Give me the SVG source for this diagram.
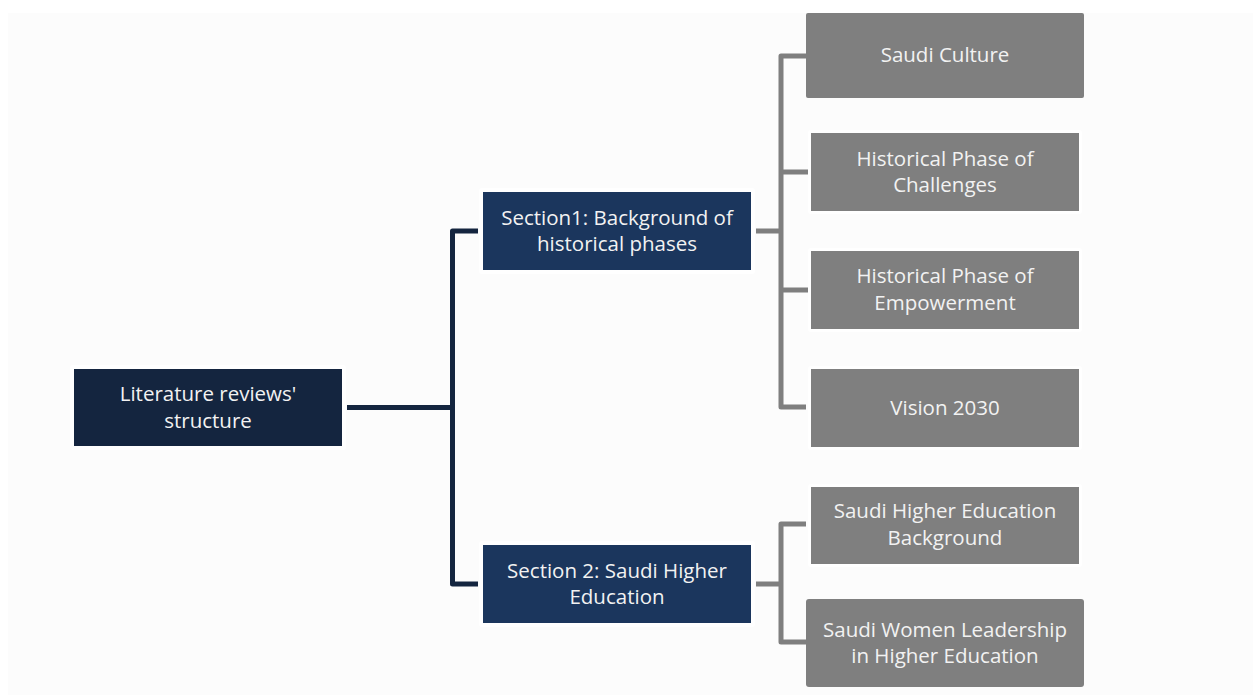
<svg xmlns="http://www.w3.org/2000/svg" width="1253" height="697" viewBox="0 0 1253 697">
<style>
.bg{fill:#fcfcfc}
.root{fill:#14253f}
.sec{fill:#1b365d}
.leaf{fill:#7f7f7f}
.halo{fill:#ffffff}
.t{font-family:"Open Sans","Liberation Sans",sans-serif;font-size:20.5px;fill:#f2f2f2;text-anchor:middle}
.cd{fill:none;stroke:#14253f;stroke-width:5;stroke-linejoin:round}
.cg{fill:none;stroke:#7f7f7f;stroke-width:5;stroke-linejoin:round}
</style>
<rect width="1253" height="697" fill="#ffffff"/>
<rect class="bg" x="8" y="13" width="1245" height="682"/>
<g id="connectors">
<path class="cd" d="M347 407.5H452.5M478 231H452.5V584H478"/>
<path class="cg" d="M756 231H781M806 56H781V407H806M781 172H811M781 290H811"/>
<path class="cg" d="M756 584H781M806 524H781V642H806"/>
</g>
<g id="root">
<rect class="halo" x="70" y="365" width="276" height="85" rx="3"/>
<rect class="root" x="74" y="369" width="268" height="77"/>
<text class="t" x="208" y="401">Literature reviews'</text>
<text class="t" x="208" y="428">structure</text>
</g>
<g id="section1">
<rect class="halo" x="479" y="188" width="276" height="86" rx="3"/>
<rect class="sec" x="483" y="192" width="268" height="78"/>
<text class="t" x="617" y="225">Section1: Background of</text>
<text class="t" x="617" y="251">historical phases</text>
</g>
<g id="section2">
<rect class="halo" x="479" y="541" width="276" height="86" rx="3"/>
<rect class="sec" x="483" y="545" width="268" height="78"/>
<text class="t" x="617" y="578">Section 2: Saudi Higher</text>
<text class="t" x="617" y="604">Education</text>
</g>
<g id="saudi-culture">
<rect class="leaf" x="806" y="13" width="278" height="85" rx="2"/>
<text class="t" x="945" y="62">Saudi Culture</text>
</g>
<g id="challenges">
<rect class="halo" x="808" y="130" width="274" height="84" rx="3"/>
<rect class="leaf" x="811" y="133" width="268" height="78"/>
<text class="t" x="945" y="166">Historical Phase of</text>
<text class="t" x="945" y="192">Challenges</text>
</g>
<g id="empowerment">
<rect class="halo" x="808" y="248" width="274" height="84" rx="3"/>
<rect class="leaf" x="811" y="251" width="268" height="78"/>
<text class="t" x="945" y="283">Historical Phase of</text>
<text class="t" x="945" y="310">Empowerment</text>
</g>
<g id="vision2030">
<rect class="halo" x="808" y="366" width="274" height="84" rx="3"/>
<rect class="leaf" x="811" y="369" width="268" height="78"/>
<text class="t" x="945" y="415">Vision 2030</text>
</g>
<g id="she-background">
<rect class="halo" x="808" y="484" width="274" height="83" rx="3"/>
<rect class="leaf" x="811" y="487" width="268" height="77"/>
<text class="t" x="945" y="518">Saudi Higher Education</text>
<text class="t" x="945" y="545">Background</text>
</g>
<g id="women-leadership">
<rect class="leaf" x="806" y="599" width="278" height="88" rx="3"/>
<text class="t" x="945" y="637">Saudi Women Leadership</text>
<text class="t" x="945" y="663">in Higher Education</text>
</g>
</svg>
